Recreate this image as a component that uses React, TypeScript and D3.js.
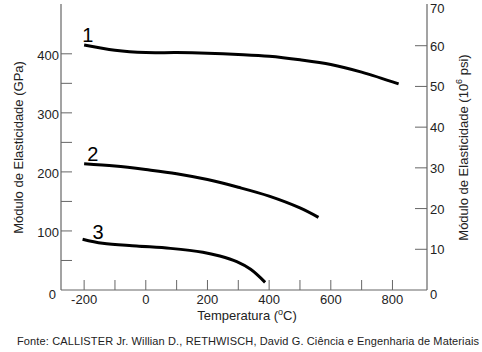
import React from "react";
import * as d3 from "d3";

// Temperature (°C) vs elastic modulus (GPa)
const curve1 = [[-200, 415], [-100, 406], [0, 402], [100, 402], [200, 401], [300, 399], [400, 396], [500, 390], [600, 382], [700, 369], [820, 349]];
const curve2 = [[-200, 214], [-100, 210], [0, 204], [100, 197], [200, 187], [300, 174], [400, 159], [500, 139], [560, 123]];
const curve3 = [[-205, 86], [-140, 79], [-30, 74.5], [80, 70.5], [185, 64], [240, 57.5], [295, 48], [340, 35], [387, 13]];
const curves = [curve1, curve2, curve3];
const curveLabels = ["1", "2", "3"];

const xTicks = [-200, 0, 200, 400, 600, 800];
const xMinorTicks = [-200, -100, 0, 100, 200, 300, 400, 500, 600, 700, 800];
const gpaTicks = [0, 100, 200, 300, 400];
const gpaMinorTicks = [50, 100, 150, 200, 250, 300, 350, 400];
const psiTicks = [0, 10, 20, 30, 40, 50, 60, 70];

const W = 482;
const H = 352;
const left = 61, right = 427, top = 5, bottom = 290;
const font = "'Liberation Sans', Arial, sans-serif";

export default function App() {
  const x = d3.scaleLinear().domain([-275, 912]).range([left, right]);
  const yG = d3.scaleLinear().domain([0, 70 * 6.895]).range([bottom, top]);
  const yP = d3.scaleLinear().domain([0, 70]).range([bottom, top]);

  const line = d3
    .line<number[]>()
    .x((d) => x(d[0]))
    .y((d) => yG(d[1]))
    .curve(d3.curveCatmullRom.alpha(0.5));

  const axisColor = "#666";
  const textColor = "#222";
  const labelDx = [-2, 3, 10];
  const labelDy = [-2.5, -2.5, 0];

  return (
    <svg
      width={W}
      height={H}
      style={{ position: "absolute", left: 0, top: 0, background: "#fff" }}
      fontFamily={font}
    >
      {/* axes frame */}
      <line x1={left} x2={left} y1={top - 1} y2={bottom} stroke={axisColor} strokeWidth={1.2} />
      <line x1={right} x2={right} y1={top - 1} y2={bottom} stroke={axisColor} strokeWidth={1.2} />
      <line x1={left} x2={right} y1={bottom} y2={bottom} stroke={axisColor} strokeWidth={1.2} />

      {/* bottom ticks */}
      {xMinorTicks.map((t) => (
        <line key={"xt" + t} x1={x(t)} x2={x(t)} y1={bottom} y2={bottom - 10} stroke={axisColor} strokeWidth={1} />
      ))}
      {xTicks.map((t) => (
        <text key={"xl" + t} x={x(t)} y={bottom + 14} textAnchor="middle" fontSize={13} fill={textColor}>
          {t}
        </text>
      ))}

      {/* left ticks */}
      {gpaMinorTicks.map((t) => (
        <line key={"gt" + t} x1={left} x2={left + 11} y1={yG(t)} y2={yG(t)} stroke={axisColor} strokeWidth={1} />
      ))}
      {gpaTicks.map((t) => (
        <text key={"gl" + t} x={t === 0 ? 56 : 59} y={yG(t) + (t === 0 ? 9 : 6)} textAnchor="end" fontSize={13} fill={textColor}>
          {t}
        </text>
      ))}

      {/* right ticks */}
      {psiTicks.filter((t) => t > 0 && t < 70).map((t) => (
        <line key={"pt" + t} x1={right - 12} x2={right} y1={yP(t)} y2={yP(t)} stroke={axisColor} strokeWidth={1} />
      ))}
      {psiTicks.map((t) => (
        <text key={"pl" + t} x={430} y={yP(t) + (t === 0 ? 9 : t === 70 ? 8 : 5)} textAnchor="start" fontSize={13} fill={textColor}>
          {t}
        </text>
      ))}

      {/* curves */}
      {curves.map((c, i) => (
        <path key={"c" + i} d={line(c) || ""} fill="none" stroke="#000" strokeWidth={3} />
      ))}
      {curves.map((c, i) => (
        <text
          key={"cl" + i}
          x={x(c[0][0]) + labelDx[i]}
          y={yG(c[0][1]) + labelDy[i]}
          fontSize={20}
          fill="#000"
        >
          {curveLabels[i]}
        </text>
      ))}

      {/* axis titles */}
      <text x={(left + right) / 2 + 3} y={320} textAnchor="middle" fontSize={13} fill={textColor}>
        Temperatura (
        <tspan fontSize={9} dy={-5}>o</tspan>
        <tspan dy={5}>C)</tspan>
      </text>
      <text
        transform={`translate(23,${(top + bottom) / 2}) rotate(-90)`}
        textAnchor="middle"
        fontSize={13}
        fill={textColor}
      >
        Módulo de Elasticidade (GPa)
      </text>
      <text
        transform={`translate(468,${(top + bottom) / 2}) rotate(-90)`}
        textAnchor="middle"
        fontSize={13}
        fill={textColor}
      >
        Módulo de Elasticidade (10
        <tspan fontSize={9} dy={-6}>6</tspan>
        <tspan dy={6}> psi)</tspan>
      </text>

      {/* source */}
      <text x={17} y={345} fontSize={11} fill={textColor} textLength={462} lengthAdjust="spacing">
        Fonte: CALLISTER Jr. Willian D., RETHWISCH, David G. Ciência e Engenharia de Materiais
      </text>
    </svg>
  );
}
